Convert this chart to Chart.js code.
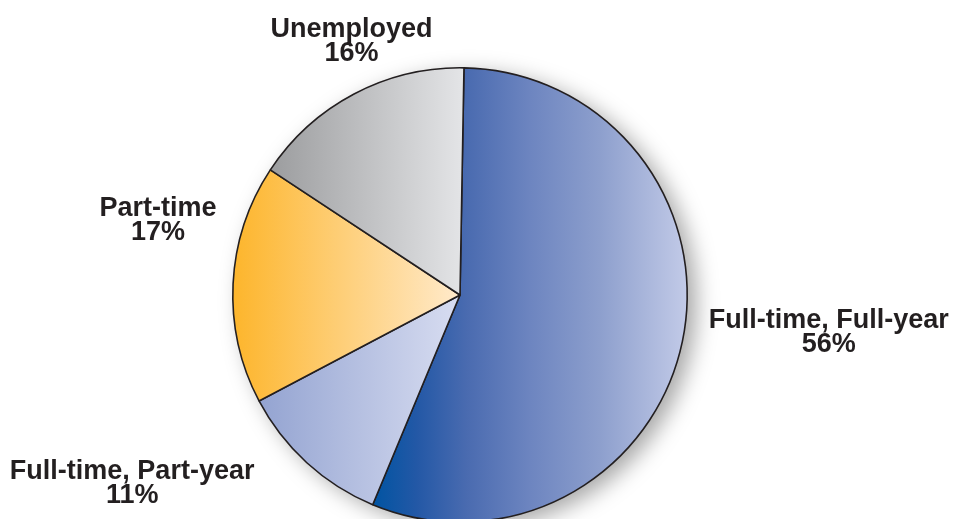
<!DOCTYPE html>
<html>
<head>
<meta charset="utf-8">
<script src="https://cdn.jsdelivr.net/npm/chart.js@4"></script>
<style>
  html, body { margin: 0; padding: 0; background: #fff; overflow: hidden; }
  #wrap { width: 957px; height: 590px; }
</style>
</head>
<body>
<div id="wrap"><canvas id="pieChart"></canvas></div>
<script>
// Chart data
const categories = ['Full-time, Full-year', 'Full-time, Part-year', 'Part-time', 'Unemployed'];
const shares = [56, 11, 17, 16];

// gradient stops per slice, left to right across the slice
const sliceStops = [
    [[0, '#0054a2'], [0.14, '#2358a6'], [0.3, '#4a6bb0'], [0.5, '#6d85c0'], [0.72, '#8d9fcd'], [1, '#c3cbe8']],
    [[0, '#93a3d1'], [1, '#d8ddf1']],
    [[0, '#fdb52b'], [1, '#ffeacb']],
    [[0, '#9b9c9e'], [1, '#e4e5e7']]
];

// label block position, in units of the pie radius from its centre
const labelSpots = [
    [1.623, 0.145],
    [-1.443, 0.811],
    [-1.329, -0.346],
    [-0.478, -1.136]
];

const ROTATION = 1;

// horizontal extent of a slice, from its data angles
function sliceSpan(index) {
    const total = shares.reduce((a, b) => a + b, 0);
    let start = ROTATION * Math.PI / 180 - Math.PI / 2;
    for (let i = 0; i < index; i++) start += shares[i] / total * Math.PI * 2;
    const end = start + shares[index] / total * Math.PI * 2;
    const xs = [0, Math.cos(start), Math.cos(end)];
    for (let k = -4; k <= 8; k++) {
        const a = k * Math.PI;
        if (a > start && a < end) xs.push(Math.cos(a));
    }
    return [Math.min(...xs), Math.max(...xs)];
}

const pieShadow = {
    id: 'pieShadow',
    beforeDatasetsDraw(chart) {
        const arc = chart.getDatasetMeta(0).data[0];
        if (!arc) return;
        const ctx = chart.ctx;
        ctx.save();
        ctx.shadowColor = 'rgba(0, 0, 0, 0.35)';
        ctx.shadowBlur = 22;
        ctx.shadowOffsetX = 9;
        ctx.shadowOffsetY = 6;
        ctx.fillStyle = '#fff';
        ctx.beginPath();
        ctx.arc(arc.x, arc.y, arc.outerRadius, 0, Math.PI * 2);
        ctx.fill();
        ctx.restore();
    }
};

const pieLabels = {
    id: 'pieLabels',
    afterDatasetsDraw(chart) {
        const arc = chart.getDatasetMeta(0).data[0];
        if (!arc) return;
        const ctx = chart.ctx;
        const r = arc.outerRadius;
        ctx.save();
        ctx.font = 'bold 27px "Liberation Sans", Arial, sans-serif';
        ctx.fillStyle = '#231f20';
        ctx.textAlign = 'center';
        ctx.textBaseline = 'alphabetic';
        categories.forEach((name, i) => {
            const x = arc.x + labelSpots[i][0] * r;
            const y = arc.y + labelSpots[i][1] * r;
            ctx.fillText(name, x, y);
            ctx.fillText(shares[i] + '%', x, y + 24);
        });
        ctx.restore();
    }
};

const pieCtx = document.getElementById('pieChart').getContext('2d');

const pieChart = new Chart(pieCtx, {
    type: 'pie',
    data: {
        labels: categories,
        datasets: [{
            data: shares,
            backgroundColor: (c) => {
                const stops = sliceStops[c.dataIndex];
                const area = c.chart.chartArea;
                if (!area) return stops[0][1];
                const r = Math.min(area.width, area.height) / 2;
                const cx = (area.left + area.right) / 2;
                const span = sliceSpan(c.dataIndex);
                const g = c.chart.ctx.createLinearGradient(cx + span[0] * r, 0, cx + span[1] * r, 0);
                stops.forEach(s => g.addColorStop(s[0], s[1]));
                return g;
            },
            borderColor: '#231f20',
            borderWidth: 1.6
        }]
    },
    options: {
        responsive: true,
        maintainAspectRatio: false,
        animation: false,
        rotation: ROTATION,
        layout: { padding: { top: 67, bottom: 67, left: 0, right: 37 } },
        plugins: {
            legend: { display: false },
            tooltip: { enabled: false }
        }
    },
    plugins: [pieShadow, pieLabels]
});
</script>
</body>
</html>
